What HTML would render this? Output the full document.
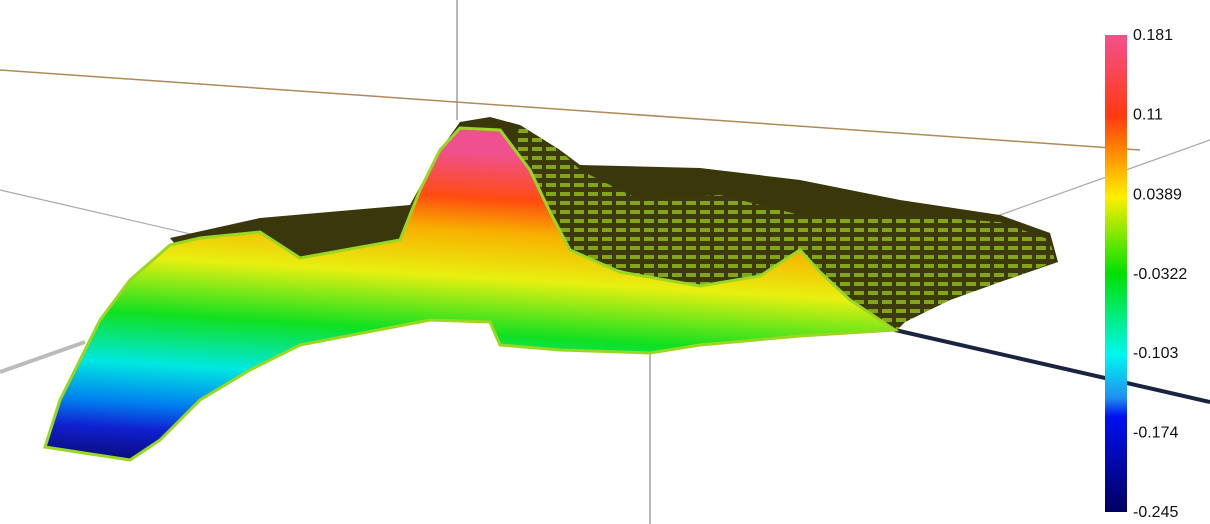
<!DOCTYPE html>
<html><head><meta charset="utf-8"><style>
html,body{margin:0;padding:0;background:#fff;width:1210px;height:524px;overflow:hidden}
svg{display:block}
text{font-family:"Liberation Sans",sans-serif;font-size:16px;fill:#111}
</style></head><body>
<svg id="chart" width="1210" height="524" viewBox="0 0 1210 524">
<defs>
<linearGradient id="surf" gradientUnits="userSpaceOnUse" x1="100" y1="460" x2="120" y2="130">
<stop offset="0" stop-color="#0a0a78"/>
<stop offset="0.1" stop-color="#1020d0"/>
<stop offset="0.18" stop-color="#0080f0"/>
<stop offset="0.3" stop-color="#00e8e0"/>
<stop offset="0.45" stop-color="#10e020"/>
<stop offset="0.62" stop-color="#e8f010"/>
<stop offset="0.76" stop-color="#f8b000"/>
<stop offset="0.86" stop-color="#ff4c10"/>
<stop offset="1" stop-color="#f05090"/>
</linearGradient>
<linearGradient id="cbar" x1="0" y1="0" x2="0" y2="1">
<stop offset="0" stop-color="#f4508c"/>
<stop offset="0.17" stop-color="#ff3a10"/>
<stop offset="0.26" stop-color="#ff9a00"/>
<stop offset="0.34" stop-color="#fff000"/>
<stop offset="0.5" stop-color="#00e000"/>
<stop offset="0.67" stop-color="#00f8f0"/>
<stop offset="0.76" stop-color="#2090f0"/>
<stop offset="0.8" stop-color="#0010f0"/>
<stop offset="1" stop-color="#000060"/>
</linearGradient>
<pattern id="ridges" width="14" height="9" patternUnits="userSpaceOnUse">
<rect width="14" height="9" fill="#3c3a08"/>
<rect x="0" y="3" width="10" height="4" fill="#8fb81c"/>
</pattern>
</defs>
<line x1="0" y1="70" x2="1140" y2="150" stroke="#b08a5a" stroke-width="1.5"/>
<line x1="457" y1="0" x2="457" y2="120" stroke="#888" stroke-width="1.2"/>
<line x1="0" y1="190" x2="650" y2="340" stroke="#aaa" stroke-width="1.2"/>
<line x1="650" y1="340" x2="1210" y2="140" stroke="#aaa" stroke-width="1.2"/>
<line x1="0" y1="372" x2="85" y2="342" stroke="#bbb" stroke-width="4"/>
<line x1="650" y1="345" x2="650" y2="524" stroke="#888" stroke-width="1.2"/>
<line x1="895" y1="330" x2="1210" y2="402" stroke="#1a2440" stroke-width="4"/>
<path d="M170,238 L260,218 L410,205 L440,150 L460,122 L490,117 L520,125 L560,150 L580,165 L700,168 L800,180 L900,200 L1000,215 L1050,233 L1058,262 L1000,282 L950,300 L905,322 L895,332 L820,300 L780,280 L700,290 L560,255 L400,245 L300,262 L180,250 Z" fill="#3a380a"/>
<path d="M520,125 L560,150 L580,170 L640,200 L720,195 L800,215 L900,215 L1000,222 L1050,240 L1055,262 L1000,282 L950,300 L905,322 L895,332 L820,300 L780,280 L700,290 L560,255 L500,200 Z" fill="url(#ridges)" opacity="0.85"/>
<path d="M45,447 L60,400 L80,360 L100,320 L130,280 L170,245 L200,238 L260,232 L300,258 L400,240 L420,190 L440,150 L460,128 L500,130 L530,170 L550,212 L570,250 L620,272 L700,286 L760,276 L800,250 L820,272 L850,300 L895,330 L800,336 L700,345 L650,353 L560,350 L500,345 L490,322 L430,320 L300,345 L250,370 L200,400 L160,440 L130,460 Z" fill="url(#surf)" stroke="#9ad820" stroke-width="3"/>
<rect x="1105" y="35" width="22" height="477" fill="url(#cbar)"/>
<g id="ticks"></g>
</svg>
<script>
const tickValues = [0.181, 0.11, 0.0389, -0.0322, -0.103, -0.174, -0.245];
const tickLabels = ["0.181", "0.11", "0.0389", "-0.0322", "-0.103", "-0.174", "-0.245"];
const vMax = 0.181, vMin = -0.245;
function yScale(v){ return 35 + (vMax - v) / (vMax - vMin) * 477; }
const g = document.getElementById('ticks');
tickValues.forEach((v, i) => {
  const t = document.createElementNS('http://www.w3.org/2000/svg', 'text');
  t.setAttribute('x', 1133);
  t.setAttribute('y', yScale(v) + 1);
  t.setAttribute('dominant-baseline', 'middle');
  t.textContent = tickLabels[i];
  
  
  g.appendChild(t);
});
</script>
</body></html>
